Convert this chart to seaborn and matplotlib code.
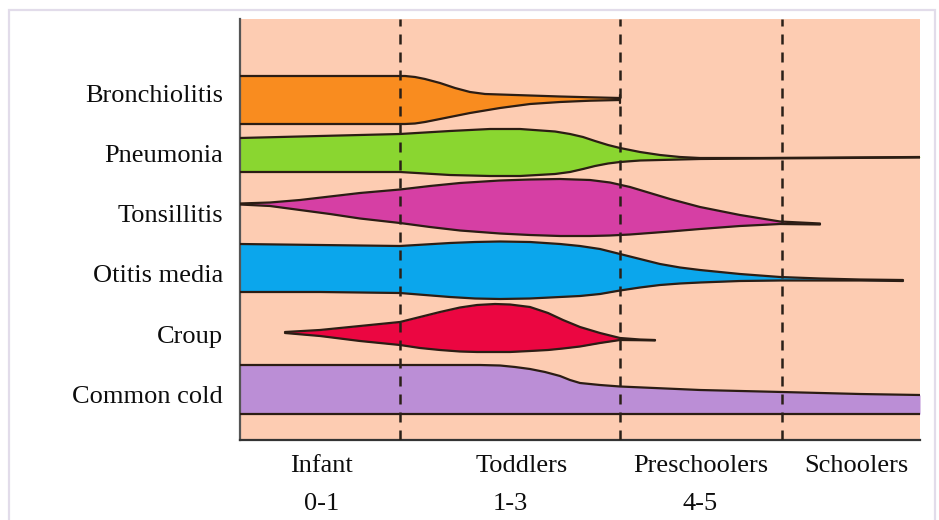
import numpy as np
import matplotlib
matplotlib.use("Agg")
import matplotlib.pyplot as plt
import matplotlib.patches as mpatches
import seaborn as sns

# age stages along the bottom
stages = ["Infant", "Toddlers", "Preschoolers", "Schoolers"]
stage_ages = ["0-1", "1-3", "4-5", ""]
stage_bounds = [16, 38, 54.2]

diseases = ["Bronchiolitis", "Pneumonia", "Tonsillitis", "Otitis media", "Croup", "Common cold"]
colors = ["#F98C1F", "#8AD630", "#D63FA4", "#0BA6EC", "#EB0641", "#BB8ED6"]

# x position and upper / lower edge of each band
bronch_x = [0, 16.5, 17.5, 18.5, 20, 21.5, 23, 24.5, 26, 27.5, 29, 32, 35, 38]
bronch_up = [36.4, 36.4, 36.3, 36.1, 35.7, 35.2, 34.8, 34.6, 34.55, 34.5, 34.45, 34.35, 34.27, 34.2]
bronch_lo = [31.6, 31.6, 31.65, 31.8, 32.1, 32.4, 32.7, 32.95, 33.2, 33.4, 33.6, 33.8, 33.93, 34.0]

pneu_x = [0, 8, 16, 21, 25, 28, 31.5, 33, 34.3, 35.5, 36.8, 38, 40, 42, 44, 46, 52, 68]
pneu_up = [30.2, 30.4, 30.6, 30.9, 31.1, 31.1, 30.85, 30.6, 30.3, 29.9, 29.5, 29.2, 28.8, 28.5, 28.3, 28.2, 28.2, 28.3]
pneu_lo = [26.8, 26.8, 26.8, 26.5, 26.4, 26.4, 26.6, 26.8, 27.1, 27.4, 27.65, 27.8, 27.95, 28.0, 28.05, 28.1, 28.15, 28.25]

tons_x = [0, 3, 6, 9, 12, 16, 19, 22, 26, 29, 32, 35, 37, 39, 41, 43, 46, 50, 54, 58]
tons_up = [23.65, 23.75, 24.0, 24.35, 24.7, 25.05, 25.4, 25.7, 25.95, 26.05, 26.1, 26.0, 25.75, 25.3,
           24.7, 24.1, 23.3, 22.5, 21.85, 21.65]
tons_lo = [23.55, 23.4, 23.0, 22.6, 22.15, 21.7, 21.3, 20.95, 20.65, 20.5, 20.4, 20.4, 20.45, 20.55,
           20.7, 20.85, 21.1, 21.4, 21.6, 21.55]

otit_x = [0, 8, 16, 18.5, 21, 23.5, 26, 29, 32, 34, 36, 38, 40, 42, 44, 46, 50, 54, 58, 62, 66.3]
otit_up = [19.6, 19.5, 19.4, 19.55, 19.7, 19.8, 19.85, 19.8, 19.6, 19.4, 19.1, 18.6, 18.1, 17.6, 17.25,
           17.0, 16.6, 16.3, 16.15, 16.05, 16.0]
otit_lo = [14.8, 14.8, 14.7, 14.5, 14.3, 14.15, 14.1, 14.15, 14.3, 14.4, 14.6, 14.95, 15.25, 15.5, 15.65,
           15.75, 15.9, 15.95, 15.95, 15.95, 15.9]

croup_x = [4.5, 8, 12, 16, 18, 20, 22, 23.7, 25.5, 27, 29, 30.8, 32.3, 34, 36, 38, 40, 41.5]
croup_up = [10.8, 11.0, 11.4, 11.8, 12.3, 12.8, 13.25, 13.5, 13.6, 13.55, 13.3, 12.7, 12.0, 11.3, 10.7,
            10.2, 10.05, 10.0]
croup_lo = [10.7, 10.4, 9.9, 9.5, 9.2, 9.0, 8.85, 8.8, 8.8, 8.8, 8.9, 9.0, 9.15, 9.35, 9.7, 10.0, 9.98, 9.95]

cold_x = [0, 16, 24, 26, 27.5, 29, 30.5, 32, 33, 34, 36, 38, 46, 54.2, 62, 68]
cold_up = [7.5, 7.5, 7.5, 7.45, 7.3, 7.1, 6.8, 6.4, 6.0, 5.7, 5.5, 5.35, 5.0, 4.8, 4.6, 4.5]
cold_lo = [2.6] * len(cold_x)

bands = [(bronch_x, bronch_up, bronch_lo), (pneu_x, pneu_up, pneu_lo),
         (tons_x, tons_up, tons_lo), (otit_x, otit_up, otit_lo),
         (croup_x, croup_up, croup_lo), (cold_x, cold_up, cold_lo)]

sns.set_style("white")
plt.rcParams['font.family'] = ['Liberation Serif', 'DejaVu Serif']

fig = plt.figure(figsize=(9.39, 5.20), dpi=100)
ax = fig.add_axes([240 / 939, 80 / 520, 680 / 939, 421 / 520])
ax.set_facecolor("#FDCCB2")

edge = "#2B1D14"
for (x, up, lo), c in zip(bands, colors):
    ax.fill_between(x, lo, up, color=c, lw=0, zorder=2)
    sns.lineplot(x=x, y=up, ax=ax, color=edge, lw=1.6, zorder=3)
    sns.lineplot(x=x, y=lo, ax=ax, color=edge, lw=1.6, zorder=3)
# small end cap on the bronchiolitis tip
ax.plot([bronch_x[-1]] * 2, [bronch_lo[-1] - 0.3, bronch_up[-1] + 0.3], color=edge, lw=1.6, zorder=3)

for b in stage_bounds:
    ax.axvline(b, color="#2A2018", lw=1.8, dashes=(4, 3.2), zorder=4)

ax.set_xlim(0, 68)
ax.set_ylim(0, 42.1)
ax.set_xticks([])
ax.set_yticks([])
for s in ["top", "right"]:
    ax.spines[s].set_visible(False)
ax.spines["left"].set_color("#555555")
ax.spines["bottom"].set_color("#333333")
ax.spines["left"].set_linewidth(1.6)
ax.spines["bottom"].set_linewidth(1.6)

# disease names on the left
label_base = [33.8, 27.8, 21.8, 15.8, 9.7, 3.7]
for name, yb in zip(diseases, label_base):
    ax.text(-1.7, yb, name, ha="right", va="baseline", fontsize=19, color="#0d0d0d", clip_on=False)

# stage labels under the axis
stage_x = [8.15, 28.2, 46.1, 61.6]
age_x = [8.2, 27.0, 46.0, 0]
for lab, xs in zip(stages, stage_x):
    ax.text(xs, -3.2, lab, ha="center", va="baseline", fontsize=19, color="#0d0d0d", clip_on=False)
for lab, xs in zip(stage_ages, age_x):
    if lab:
        ax.text(xs, -7.0, lab, ha="center", va="baseline", fontsize=19, color="#0d0d0d", clip_on=False)

frame = mpatches.Rectangle((9 / 939, -0.05), 926 / 939, 1.05 - 10 / 520, transform=fig.transFigure,
                           fill=False, edgecolor="#E2DCEA", lw=1.6)
fig.patches.append(frame)

fig.savefig("out.png", dpi=100)
